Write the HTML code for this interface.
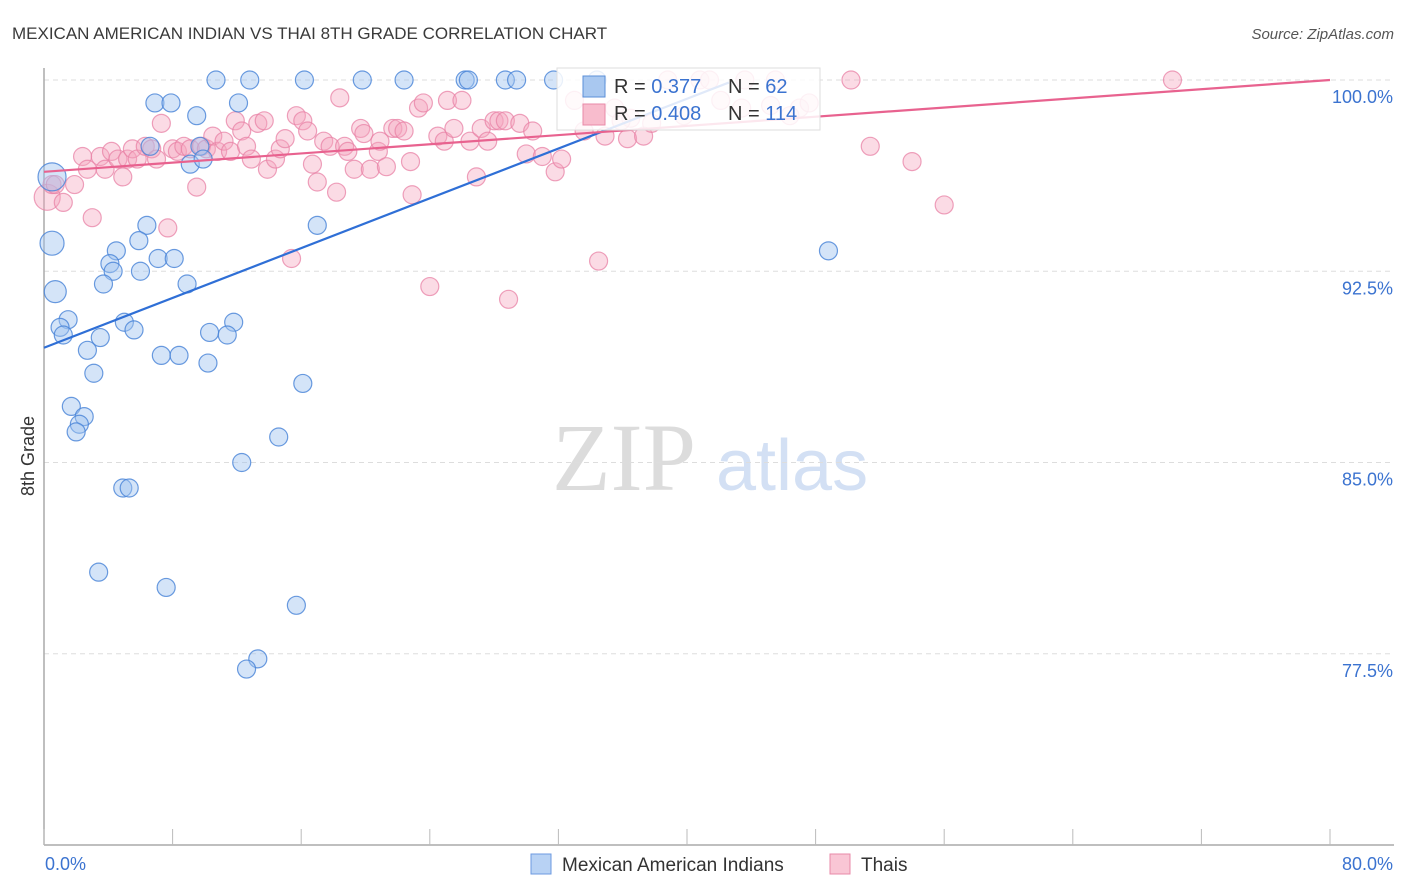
<!DOCTYPE html>
<html><head><meta charset="utf-8"><style>
body{margin:0;background:#fff;font-family:"Liberation Sans",sans-serif;}
svg{display:block}
</style></head><body>
<svg id="chart" width="1406" height="892">
<text x="12" y="39" font-size="17" fill="#3a3a3a">MEXICAN AMERICAN INDIAN VS THAI 8TH GRADE CORRELATION CHART</text>
<text x="1394" y="39" font-size="15" fill="#555" font-style="italic" text-anchor="end">Source: ZipAtlas.com</text>
<g>
<text x="552" y="490" font-family="Liberation Serif,serif" font-size="96" fill="#dcdcdc">ZIP</text>
<text x="716" y="490" font-size="72" fill="#d3e0f4">atlas</text>
</g>
<g id="grid"></g>
<g id="axes"></g>
<g id="pts"></g>
<g id="lines"></g>
<text x="34" y="456" font-size="18" fill="#333" transform="rotate(-90 34 456)" text-anchor="middle">8th Grade</text>
<g>
<rect x="557" y="68" width="263" height="62" fill="#fff" fill-opacity="0.85" stroke="#ddd"/>
<rect x="583" y="76" width="22" height="21" fill="#a9c8f0" stroke="#5b8fd8"/>
<rect x="583" y="104" width="22" height="21" fill="#f8bccd" stroke="#e88aa8"/>
<text x="614" y="93" font-size="20" fill="#333">R = <tspan fill="#3b73d0"> 0.377</tspan></text>
<text x="728" y="93" font-size="20" fill="#333">N = <tspan fill="#3b73d0"> 62</tspan></text>
<text x="614" y="120" font-size="20" fill="#333">R = <tspan fill="#3b73d0">0.408</tspan></text>
<text x="728" y="120" font-size="20" fill="#333">N = <tspan fill="#3b73d0">114</tspan></text>
</g>
<g>
<rect x="531" y="854" width="20" height="20" fill="#b8d2f4" stroke="#6c9ae0"/>
<text x="562" y="871" font-size="19" fill="#333">Mexican American Indians</text>
<rect x="830" y="854" width="20" height="20" fill="#f9c6d5" stroke="#e88aa8"/>
<text x="861" y="871" font-size="19" fill="#333">Thais</text>
</g>
</svg>
<script>
const yTicks=[100,92.5,85,77.5];
const yTickLabels=["100.0%","92.5%","85.0%","77.5%"];
const xTickLabels=["0.0%","80.0%"];
// blue series (x %, y %)
const blueX=[10.7,12.8,16.2,19.8,22.4,26.2,26.4,28.7,29.4,31.7,34.4,6.9,7.9,12.1,9.5,6.6,9.7,9.1,9.9,0.5,0.5,0.7,6.4,17.0,5.9,4.5,4.1,4.3,6.0,7.1,8.1,3.7,8.9,1.5,1.0,1.2,5.0,5.6,11.8,10.3,11.4,3.5,2.7,7.3,8.4,10.2,3.1,16.1,1.7,2.5,2.2,2.0,14.6,12.3,4.9,5.3,3.4,7.6,15.7,13.3,12.6,48.8];
const blueY=[100,100,100,100,100,100,100,100,100,100,100,99.1,99.1,99.1,98.6,97.4,97.4,96.7,96.9,96.2,93.6,91.7,94.3,94.3,93.7,93.3,92.8,92.5,92.5,93.0,93.0,92.0,92.0,90.6,90.3,90.0,90.5,90.2,90.5,90.1,90.0,89.9,89.4,89.2,89.2,88.9,88.5,88.1,87.2,86.8,86.5,86.2,86.0,85.0,84.0,84.0,80.7,80.1,79.4,77.3,76.9,93.3];
const blueSize=blueX.map((_,i)=>i===19?14:i===20?12:i===21?11:9);
// pink series
const pinkX=[0.2,0.5,0.7,1.2,1.9,3.0,2.4,2.7,3.5,3.8,4.2,4.6,4.9,5.2,5.5,5.8,6.3,6.7,7.0,7.3,7.7,8.0,8.3,8.7,9.1,9.5,9.8,10.1,10.5,10.8,11.2,11.6,11.9,12.3,12.6,12.9,13.3,13.7,13.9,14.4,14.7,15.0,15.4,15.7,16.1,16.4,16.7,17.0,17.4,17.8,18.2,18.4,18.7,18.9,19.3,19.7,19.9,20.3,20.8,20.9,21.3,21.7,22.0,22.4,22.8,22.9,23.3,23.6,24.0,24.5,24.9,25.1,25.5,26.0,26.5,26.9,27.2,27.6,28.0,28.3,28.7,28.9,29.6,30.0,30.4,31.0,31.8,32.2,33.6,34.5,34.9,35.5,36.3,37.3,37.8,38.8,40.8,41.4,43.6,45.5,47.0,47.6,50.2,51.4,54.0,56.0,70.2,46.4,45.2,43.4,42.1,39.8,36.5,35.9,33.0];
const pinkY=[95.4,95.9,95.9,95.2,95.9,94.6,97.0,96.5,97.0,96.5,97.2,96.9,96.2,96.9,97.3,96.9,97.4,97.3,96.9,98.3,94.2,97.3,97.2,97.4,97.3,95.8,97.4,97.3,97.8,97.2,97.6,97.2,98.4,98.0,97.4,96.9,98.3,98.4,96.5,96.9,97.3,97.7,93.0,98.6,98.4,98.0,96.7,96.0,97.6,97.4,95.6,99.3,97.4,97.2,96.5,98.1,97.9,96.5,97.2,97.6,96.6,98.1,98.1,98.0,96.8,95.5,98.9,99.1,91.9,97.8,97.6,99.2,98.1,99.2,97.6,96.2,98.1,97.6,98.4,98.4,98.4,91.4,98.3,97.1,98.0,97.0,96.4,96.9,98.0,92.9,97.8,98.9,97.7,97.8,98.3,100,100,100,100,100,98.9,99.1,100,97.4,96.8,95.1,100,98.6,99.0,98.9,99.2,98.6,98.5,98.4,99.2];
const pinkSize=pinkX.map((_,i)=>i===0?13:9);
const blueLine=[[0,89.5],[42.6,99.9]];
const pinkLine=[[0,96.4],[80,100]];

const X0=44,X1=1330,Y0=845,Y1=80;
const sx=v=>X0+(v/80)*(X1-X0);
const sy=v=>Y0-((v-70)/30)*(Y0-Y1);
const NS="http://www.w3.org/2000/svg";
function mk(tag,attrs,parent){const e=document.createElementNS(NS,tag);for(const k in attrs)e.setAttribute(k,attrs[k]);parent.appendChild(e);return e;}
const grid=document.getElementById('grid'),axes=document.getElementById('axes'),pts=document.getElementById('pts'),lines=document.getElementById('lines');
yTicks.forEach((t,i)=>{
 const l=mk('line',{x1:X0,x2:1394,y1:sy(t),y2:sy(t),stroke:'#ddd','stroke-dasharray':'5,4'},grid);
 
 
 const tx=mk('text',{x:1393,y:sy(t)+23,'font-size':18,fill:'#3b73d0','text-anchor':'end'},axes);
 tx.textContent=yTickLabels[i];
 
 
});
const ya=mk('line',{x1:X0,x2:X0,y1:68,y2:Y0,stroke:'#aaa','stroke-width':1.5},axes);


const xa=mk('line',{x1:X0,x2:1394,y1:Y0,y2:Y0,stroke:'#aaa','stroke-width':1.5},axes);


for(let v=0;v<=80;v+=8){
 const t=mk('line',{x1:sx(v),x2:sx(v),y1:Y0-16,y2:Y0,stroke:'#bbb'},axes);
 
 
}
[[0,'start'],[80,'end']].forEach((p,i)=>{
 const t=mk('text',{x:i?1393:45,y:870,'font-size':18,fill:'#3b73d0','text-anchor':p[1]},axes);
 t.textContent=xTickLabels[i];
 
 
});
function series(xs,ys,sizes,fill,stroke,name){
 xs.forEach((x,i)=>{
  const c=mk('circle',{cx:sx(x),cy:sy(ys[i]),r:sizes[i],fill:fill,stroke:stroke,'stroke-width':1.2},pts);
  
  
 });
}
series(pinkX,pinkY,pinkSize,'rgba(245,165,190,0.4)','rgba(232,130,165,0.75)','thai-point');
series(blueX,blueY,blueSize,'rgba(160,195,240,0.45)','rgba(70,130,215,0.8)','mexican-point');
const bl=mk('line',{x1:sx(blueLine[0][0]),y1:sy(blueLine[0][1]),x2:sx(blueLine[1][0]),y2:sy(blueLine[1][1]),stroke:'#2f6fd6','stroke-width':2.2},lines);


const pl=mk('line',{x1:sx(pinkLine[0][0]),y1:sy(pinkLine[0][1]),x2:sx(pinkLine[1][0]),y2:sy(pinkLine[1][1]),stroke:'#e8628f','stroke-width':2.2},lines);


</script>
</body></html>
